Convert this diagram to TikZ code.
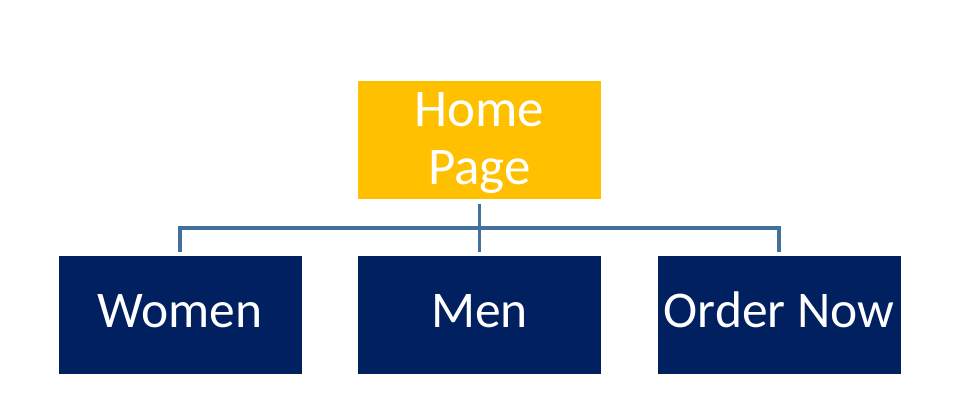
\documentclass[tikz,border=0pt]{standalone}
\usepackage{fontspec}
\setmainfont{Carlito}
\definecolor{gold}{HTML}{FFC000}
\definecolor{navy}{HTML}{002060}
\definecolor{linkblue}{HTML}{41719C}
\begin{document}
\begin{tikzpicture}[x=1pt,y=1pt,
  box/.style={draw=none, inner sep=0pt, minimum width=243pt, minimum height=118pt,
    text=white, align=center},
  homebox/.style={box, fill=gold},
  hometext/.style={inner sep=0pt, text=white, align=center, font=\fontsize{53}{58.3}\selectfont},
  pagebox/.style={box, fill=navy, font=\fontsize{51.5}{56}\selectfont,
    text height=32pt, text depth=6pt},
  conn/.style={draw=linkblue, line width=3.6pt, line join=miter}]
\useasboundingbox (0,0) rectangle (960,406);
\node[homebox] (home) at (479.5,266) {};
\node[hometext] (homelabel) at ([yshift=-3pt]home.center) {Home\\Page};
\node[pagebox] (women) at (180,91) {Women};
\node[pagebox] (men) at (479.5,91) {Men};
\node[pagebox] (order) at (779,91) {Order Now};
\coordinate (bar) at (479.5,178);
\draw[conn] ([yshift=-5pt]home.south) -- ([yshift=4pt]men.north);
\draw[conn] ([yshift=4pt]women.north) |- (bar) -| ([yshift=4pt]order.north);
\end{tikzpicture}
\end{document}
